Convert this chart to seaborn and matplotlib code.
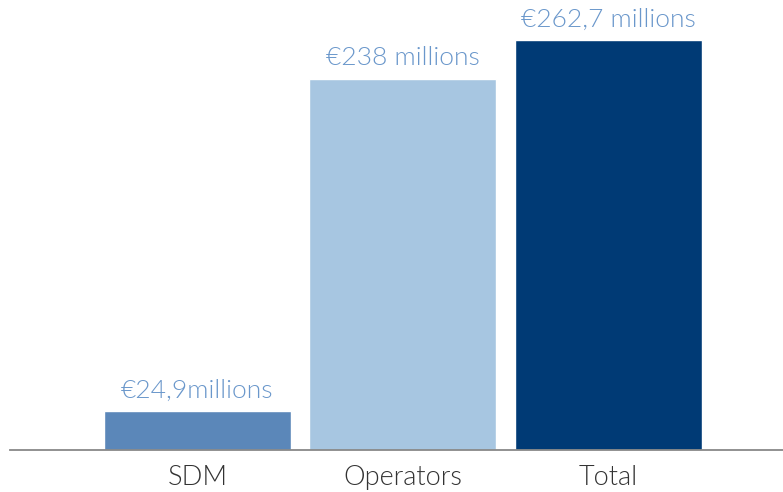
import matplotlib
matplotlib.use("Agg")
import matplotlib.pyplot as plt
from matplotlib import font_manager as fm
import seaborn as sns
import pandas as pd
import os

categories = ["SDM", "Operators", "Total"]
values = [24.9, 238, 262.7]
labels = ["€24,9millions", "€238 millions", "€262,7 millions"]
colors = ["#5b87b9", "#a7c6e1", "#003a75"]

sns.set_theme(style="white")
plt.rcParams['font.family'] = ['Lato', 'DejaVu Sans']

light_path = "/usr/share/fonts/truetype/google-fonts/Lato-Light.ttf"
def light(size):
    if os.path.exists(light_path):
        return fm.FontProperties(fname=light_path, size=size)
    return fm.FontProperties(family="Lato", weight="light", size=size)

fp_tick = light(19.5)
fp_lab = light(19)

df = pd.DataFrame({"cat": categories, "val": values})

fig = plt.figure(figsize=(7.83, 4.92), dpi=100)
ax = fig.add_axes([10/783, 1 - 450/492, 773/783, 450/492])
sns.barplot(data=df, x="cat", y="val", hue="cat", palette=colors, width=0.91,
            legend=False, ax=ax, saturation=1)

ax.set_xlim(-0.912, 2.849)
ax.set_ylim(0, 450/1.56)
for s in ["top", "right", "left"]:
    ax.spines[s].set_visible(False)
ax.spines["bottom"].set_color("#888888")
ax.spines["bottom"].set_linewidth(1.3)
ax.set_yticks([])
ax.set_xlabel("")
ax.set_ylabel("")
ax.tick_params(axis="x", length=0, pad=10.5, labelcolor="#333333")
for t in ax.get_xticklabels():
    t.set_fontproperties(fp_tick)

for i, (v, lab) in enumerate(zip(values, labels)):
    ax.annotate(lab, (i, v), xytext=(0, 6), textcoords="offset points",
                ha="center", va="bottom", fontproperties=fp_lab, color="#6a97cb")

fig.savefig("out.png", dpi=100)
